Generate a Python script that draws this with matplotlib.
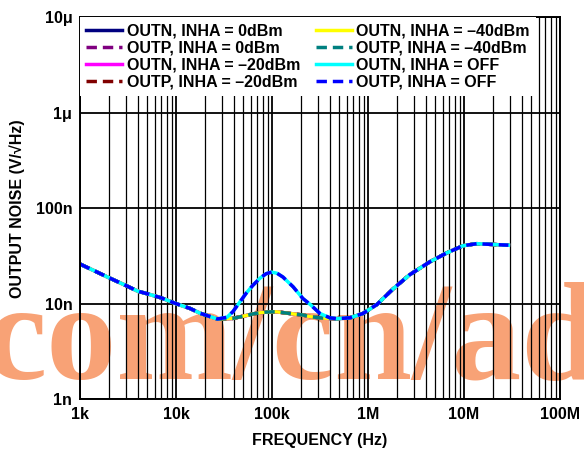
import matplotlib.pyplot as plt
from matplotlib.ticker import LogLocator, NullLocator, NullFormatter

# frequency points (Hz)
freq_hz = [1e3, 2e3, 3e3, 4e3, 5e3, 7e3, 1e4, 1.4e4, 1.8e4, 2.7e4, 3.4e4, 3.9e4,
           5.4e4, 6.3e4, 7.5e4, 8.7e4, 9.9e4, 1.13e5, 1.3e5, 1.66e5, 2.1e5, 2.5e5,
           3.15e5, 4e5, 4.7e5, 6.5e5, 8.9e5, 1.24e6, 1.83e6, 2.7e6, 4.4e6, 6.6e6,
           9.8e6, 1.36e7, 2e7, 2.9e7]

# output noise in nV/rtHz, INHA driven (0/-20/-40 dBm all lie on top of each other)
noise_on = [26, 18.7, 15.5, 13.5, 12.7, 11.5, 10.0, 8.9, 7.9, 6.9, 6.95, 7.0,
            7.5, 7.8, 8.0, 8.15, 8.2, 8.2, 8.05, 7.8, 7.6, 7.3,
            7.1, 7.0, 6.95, 7.1, 7.9, 9.8, 14.3, 20, 27.4, 34,
            40.5, 42.5, 41.7, 41]

# INHA = OFF, shows the bump around 100k
noise_off = [26, 18.7, 15.5, 13.5, 12.7, 11.5, 10.0, 8.9, 7.9, 6.9, 7.2, 8.2,
             12.9, 15.5, 18.5, 20.6, 21.4, 20.8, 19.0, 15.0, 11.3, 9.8,
             7.9, 7.1, 6.95, 7.1, 7.9, 9.8, 14.3, 20, 27.4, 34,
             40.5, 42.5, 41.7, 41]

labels = ['OUTN, INHA = 0dBm', 'OUTP, INHA = 0dBm',
          'OUTN, INHA = \u201320dBm', 'OUTP, INHA = \u201320dBm',
          'OUTN, INHA = \u201340dBm', 'OUTP, INHA = \u201340dBm',
          'OUTN, INHA = OFF', 'OUTP, INHA = OFF']
colors = ['#000080', '#800080', '#FF00FF', '#800000',
          '#FFFF00', '#008080', '#00FFFF', '#0000FF']
series = [noise_on] * 6 + [noise_off] * 2

xticks = [1e3, 1e4, 1e5, 1e6, 1e7, 1e8]
xlabels = ['1k', '10k', '100k', '1M', '10M', '100M']
yticks = [1e-9, 1e-8, 1e-7, 1e-6, 1e-5]
ylabels = ['1n', '10n', '100n', '1\u03bc', '10\u03bc']

plt.rcParams['font.family'] = ['Liberation Sans', 'DejaVu Sans']
plt.rcParams['font.weight'] = 'bold'

fig = plt.figure(figsize=(5.84, 4.51), dpi=100)
ax = fig.add_axes([80/584, 1-399/451, 480/584, (399-17.5)/451])

for i in range(len(labels)):
    y = [v * 1e-9 for v in series[i]]
    if i % 2 == 0:
        ax.plot(freq_hz, y, color=colors[i], lw=2.5, label=labels[i], zorder=2+i*0.01)
    else:
        ax.plot(freq_hz, y, color=colors[i], lw=2.5, ls=(0, (3.0, 1.7)),
                label=labels[i], zorder=2+i*0.01)

ax.set_xscale('log')
ax.set_yscale('log')
ax.set_xlim(1e3, 1e8)
ax.set_ylim(1e-9, 1e-5)
ax.set_xticks(xticks, xlabels)
ax.set_yticks(yticks, ylabels)
ax.xaxis.set_minor_locator(LogLocator(base=10, subs=range(2, 10), numticks=20))
ax.xaxis.set_minor_formatter(NullFormatter())
ax.yaxis.set_minor_locator(NullLocator())
ax.tick_params(which='both', length=0, labelsize=11.5)
ax.tick_params(axis='x', pad=6)
ax.tick_params(axis='y', pad=5.5)
ax.set_axisbelow(True)
ax.grid(which='major', color='black', lw=1.3)
ax.grid(which='minor', axis='x', color='black', lw=0.9)
for s in ax.spines.values():
    s.set_linewidth(1.4)

ax.set_xlabel('FREQUENCY (Hz)', fontsize=11.5, fontweight='bold', labelpad=8)
ax.set_ylabel('OUTPUT NOISE (V/\u221aHz)', fontsize=11.5, fontweight='bold', labelpad=8)

leg = ax.legend(ncol=2, loc='upper left', bbox_to_anchor=(0, 1), borderaxespad=0,
                frameon=True, fancybox=False, edgecolor='none', facecolor='white',
                framealpha=1, handlelength=2.25, handletextpad=0.3, columnspacing=0.95,
                labelspacing=0.12, borderpad=0.4,
                prop={'weight': 'bold', 'size': 11.5})

# watermark across the lower part, under the grid
ax.text(-16/584, 1-379/451, 'com/cn/ad', transform=fig.transFigure, fontsize=101,
        family='Liberation Serif', fontweight='bold', color='#F8A276',
        ha='left', va='baseline', zorder=0.3, clip_on=False)

fig.savefig('out.png', dpi=100)
